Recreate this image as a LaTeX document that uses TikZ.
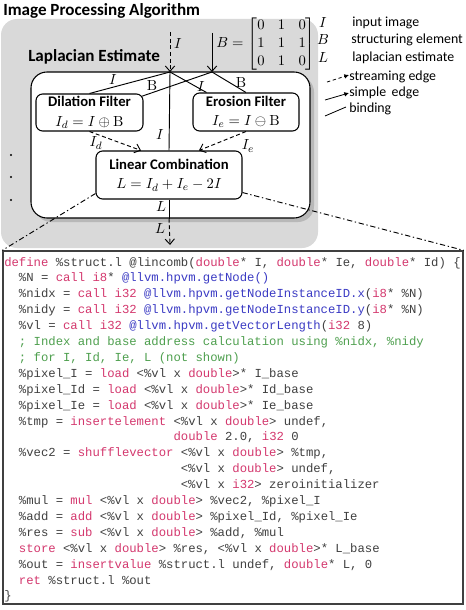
\documentclass[tikz,border=0pt]{standalone}
\usepackage{amsmath}
\usepackage[no-math]{fontspec}
\setmainfont{Carlito}
\setmonofont{Liberation Mono}
\usetikzlibrary{arrows.meta,shadows}
\definecolor{kwc}{HTML}{D4386E}
\definecolor{fnc}{HTML}{3B3BC4}
\definecolor{cmc}{HTML}{4FA04F}
\definecolor{codec}{HTML}{404040}
\newcommand{\kw}[1]{\textcolor{kwc}{#1}}
\newcommand{\fn}[1]{\textcolor{fnc}{#1}}
\newcommand{\cm}[1]{\textcolor{cmc}{#1}}
\tikzset{
  bigtxt/.style={font=\bfseries\fontsize{12.8}{15}\selectfont},
  legtxt/.style={inner sep=0pt, font=\fontsize{10.4}{12.5}\selectfont},
  filterbox/.style={draw, line width=0.8pt, fill=white, rounded corners=5pt, align=center, inner sep=0pt, font=\fontsize{11}{13.5}\selectfont},
  lbl/.style={inner sep=0pt, font=\fontsize{11}{13.5}\selectfont},
  stream/.style={dashed, dash pattern=on 3pt off 2pt, line width=0.7pt, -{Straight Barb[length=4pt,width=7pt]}},
  simple/.style={line width=0.7pt, -{Straight Barb[length=4pt,width=7pt]}},
  bind/.style={line width=0.7pt},
  dashdotline/.style={line width=0.7pt, dash pattern=on 4pt off 2pt on 1pt off 2pt},
  codeline/.style={anchor=base west, inner sep=0pt, text=codec, font=\ttfamily\fontsize{9.2}{11}\selectfont},
}
\begin{document}
\begin{tikzpicture}[x=0.75pt,y=-0.75pt]
\useasboundingbox (0,0) rectangle (466,610);
% title
\node[bigtxt, anchor=base west, inner sep=0pt] (title) at (3,16) {Image Processing Algorithm};
% gray background
\node[fill=gray!30, rounded corners=12pt, minimum width=237.75pt, minimum height=171.75pt, inner sep=0pt] (alg) at (159.5,133.5) {};
\node[bigtxt, anchor=base west, inner sep=0pt] (laptitle) at (28,62) {Laplacian Estimate};
% inner box
\node[draw, line width=0.8pt, fill=white, rounded corners=12pt, minimum width=209.25pt, minimum height=109.5pt, inner sep=0pt,
      drop shadow={shadow xshift=3pt, shadow yshift=-3pt, fill=black!40}] (lap) at (170.5,145) {};
% filters
\node[filterbox, minimum width=80.25pt, minimum height=27.75pt] (dil) at (89.5,112.5) {\textbf{Dilation Filter}\\[1pt]$I_d = I \oplus \mathrm{B}$};
\node[filterbox, minimum width=79.5pt, minimum height=28.5pt] (ero) at (246,112) {\textbf{Erosion Filter}\\[1pt]$I_e = I \ominus \mathrm{B}$};
\node[filterbox, minimum width=109.5pt, minimum height=36pt] (lin) at (169,175) {\textbf{Linear Combination}\\[1pt]$L = I_d + I_e - 2I$};
% coordinates
\coordinate (Itop) at (170,32);
\coordinate (pI) at (170,72);
\coordinate (Btop) at (212,33);
\coordinate (pB) at (212,72);
\coordinate (Lend) at (170,245);
% inputs
\draw[stream] (Itop) -- (pI);
\draw[simple] (Btop) -- (pB);
\node[lbl] (lI) at (178,44) {$I$};
\node[lbl, anchor=west] (lB) at (216,44) {$B = \begin{bmatrix}0 & 1 & 0\\ 1 & 1 & 1\\ 0 & 1 & 0\end{bmatrix}$};
% bindings
\draw[bind] (pI) -- (dil.north);
\draw[bind] (pB) -- ([xshift=-1pt,yshift=-2pt]dil.north east);
\draw[bind] (pI) -- ([xshift=10.5pt]ero.north west);
\draw[bind] (pB) -- (ero.north);
\node[lbl] (b1) at (113,80) {$I$};
\node[lbl] (b2) at (152,86) {$\mathrm{B}$};
\node[lbl] (b3) at (201,87) {$I$};
\node[lbl] (b4) at (241,83) {$\mathrm{B}$};
% I to linear combination
\draw[bind] (pI) -- (lin.north);
\node[lbl] (b5) at (160,135) {$I$};
% streaming edges
\draw[stream] (dil.south) -- ([xshift=-21pt]lin.north);
\draw[stream] (ero.south) -- ([xshift=22.5pt]lin.north);
\node[lbl] (lId) at (96,143) {$I_d$};
\node[lbl] (lIe) at (248,146) {$I_e$};
% output
\draw[bind] (lin.south) -- (lin.south |- lap.south);
\draw[stream] (lin.south |- lap.south) -- (Lend);
\node[lbl] (lL1) at (161,207) {$L$};
\node[lbl] (lL2) at (160,229) {$L$};
% dots
\fill (11,155) circle (0.9pt);
\fill (11,177) circle (0.9pt);
\fill (11,200) circle (0.9pt);
% legend
\node[lbl] (gI) at (323,23) {$I$};
\node[lbl] (gB) at (323,40) {$B$};
\node[lbl] (gL) at (323,58) {$L$};
\node[legtxt, anchor=base west] (tI) at (352,27) {input image};
\node[legtxt, anchor=base west] (tB) at (351,44) {structuring element};
\node[legtxt, anchor=base west] (tL) at (352,62) {laplacian estimate};
\node[legtxt, anchor=base west] (ts) at (349,80) {streaming edge};
\node[legtxt, anchor=base west] (tp) at (349,97) {simple\, edge};
\node[legtxt, anchor=base west] (tb) at (349,113) {binding};
\coordinate (s1) at (327,82); \coordinate (s2) at (349,75);
\coordinate (p1) at (325,100); \coordinate (p2) at (349,93);
\coordinate (d1) at (325,116); \coordinate (d2) at (346,107);
\draw[dashed, dash pattern=on 2.5pt off 2pt, line width=0.6pt, -{Latex[length=3.5pt,width=3.5pt]}] (s1) -- (s2);
\draw[line width=0.6pt, -{Latex[length=3.5pt,width=3.5pt]}] (p1) -- (p2);
\draw[line width=0.6pt] (d1) -- (d2);
% code box
\node[draw=black!75, line width=1pt, fill=white, minimum width=345pt, minimum height=264.75pt, inner sep=0pt] (code) at (233,427.5) {};
\draw[dashdotline] ([yshift=4.5pt]lin.south west) -- (code.north west);
\draw[dashdotline] ([yshift=5.25pt]lin.south east) -- (code.north east);
% code lines
\node[codeline] (c1) at (4,266) {\kw{define} \%struct.l @lincomb(\kw{double}* I, \kw{double}* Ie, \kw{double}* Id) \{};
\node[codeline] (c2) at (18.7,281.9) {\%N = \kw{call} \kw{i8}* \fn{@llvm.hpvm.getNode()}};
\node[codeline] (c3) at (18.7,297.8) {\%nidx = \kw{call} \kw{i32} \fn{@llvm.hpvm.getNodeInstanceID.x}(\kw{i8}* \%N)};
\node[codeline] (c4) at (18.7,313.7) {\%nidy = \kw{call} \kw{i32} \fn{@llvm.hpvm.getNodeInstanceID.y}(\kw{i8}* \%N)};
\node[codeline] (c5) at (18.7,329.6) {\%vl = \kw{call} \kw{i32} \fn{@llvm.hpvm.getVectorLength}(\kw{i32} 8)};
\node[codeline] (c6) at (18.7,345.5) {\cm{; Index and base address calculation using \%nidx, \%nidy}};
\node[codeline] (c7) at (18.7,361.4) {\cm{; for I, Id, Ie, L (not shown)}};
\node[codeline] (c8) at (18.7,377.3) {\%pixel\_I = \kw{load} <\%vl x \kw{double}>* I\_base};
\node[codeline] (c9) at (18.7,393.2) {\%pixel\_Id = \kw{load} <\%vl x \kw{double}>* Id\_base};
\node[codeline] (c10) at (18.7,409.1) {\%pixel\_Ie = \kw{load} <\%vl x \kw{double}>* Ie\_base};
\node[codeline] (c11) at (18.7,425) {\%tmp = \kw{insertelement} <\%vl x \kw{double}> undef,};
\node[codeline] (c12) at (173.3,440.9) {\kw{double} 2.0, \kw{i32} 0};
\node[codeline] (c13) at (18.7,456.8) {\%vec2 = \kw{shufflevector} <\%vl x \kw{double}> \%tmp,};
\node[codeline] (c14) at (180.6,472.7) {<\%vl x \kw{double}> undef,};
\node[codeline] (c15) at (180.6,488.6) {<\%vl x \kw{i32}> zeroinitializer};
\node[codeline] (c16) at (18.7,504.5) {\%mul = \kw{mul} <\%vl x \kw{double}> \%vec2, \%pixel\_I};
\node[codeline] (c17) at (18.7,520.4) {\%add = \kw{add} <\%vl x \kw{double}> \%pixel\_Id, \%pixel\_Ie};
\node[codeline] (c18) at (18.7,536.3) {\%res = \kw{sub} <\%vl x \kw{double}> \%add, \%mul};
\node[codeline] (c19) at (18.7,552.2) {\kw{store} <\%vl x \kw{double}> \%res, <\%vl x \kw{double}>* L\_base};
\node[codeline] (c20) at (18.7,568.1) {\%out = \kw{insertvalue} \%struct.l undef, \kw{double}* L, 0};
\node[codeline] (c21) at (18.7,584) {\kw{ret} \%struct.l \%out};
\node[codeline] (c22) at (4,599.9) {\}};
\end{tikzpicture}
\end{document}
